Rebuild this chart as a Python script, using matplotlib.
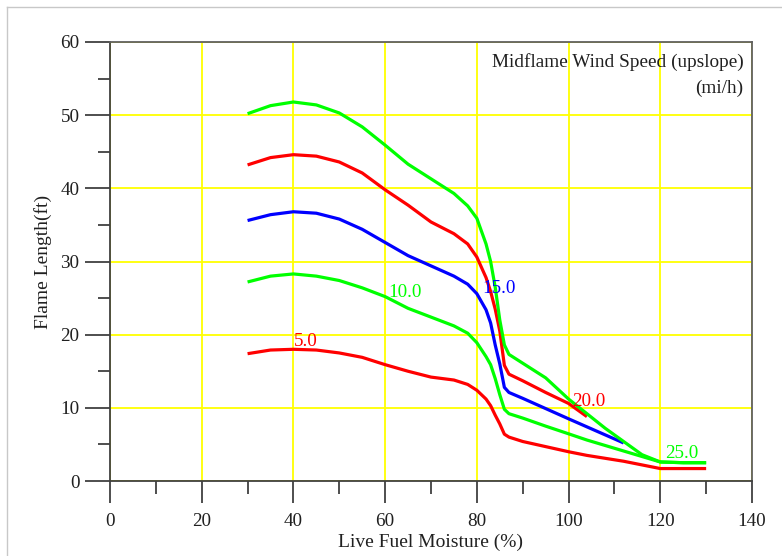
import numpy as np
import matplotlib
matplotlib.use("Agg")
import matplotlib.pyplot as plt
from matplotlib.ticker import MultipleLocator
from matplotlib.lines import Line2D

moisture = [30, 35, 40, 45, 50, 55, 60, 65, 70, 75, 78, 80, 82, 83, 84, 85, 86, 87,
            90, 95, 100, 104, 108, 112, 116, 120, 125, 130]
nan = np.nan
wind_5 = [17.4, 17.9, 18.0, 17.9, 17.5, 16.9, 15.9, 15.0, 14.2, 13.8, 13.2, 12.4, 11.2, 10.3,
          9.0, 7.8, 6.4, 6.0, 5.4, 4.7, 4.0, 3.5, 3.1, 2.7, 2.2, 1.7, 1.7, 1.7]
wind_10 = [27.2, 28.0, 28.3, 28.0, 27.4, 26.4, 25.2, 23.6, 22.4, 21.2, 20.2, 18.9, 17.0, 15.9,
           14.0, 11.8, 9.8, 9.2, 8.6, 7.5, 6.45, 5.6, 4.85, 4.1, 3.35, 2.6, 2.5, 2.5]
wind_15 = [35.6, 36.4, 36.8, 36.6, 35.8, 34.4, 32.6, 30.8, 29.4, 28.0, 26.9, 25.6, 23.4, 21.6,
           18.6, 16.0, 12.8, 12.1, 11.3, 9.9, 8.5, 7.4, 6.3, 5.2, nan, nan, nan, nan]
wind_20 = [43.2, 44.2, 44.6, 44.4, 43.6, 42.1, 39.8, 37.7, 35.4, 33.8, 32.4, 30.6, 27.8, 25.9,
           23.5, 20.5, 15.8, 14.6, 13.7, 12.1, 10.6, 8.8, nan, nan, nan, nan, nan, nan]
wind_25 = [50.2, 51.3, 51.8, 51.4, 50.3, 48.4, 45.9, 43.3, 41.3, 39.3, 37.6, 35.9, 32.4, 30.0,
           26.5, 22.0, 18.6, 17.3, 16.1, 14.1, 11.2, 9.2, 7.2, 5.4, 3.6, 2.6, 2.5, 2.5]

series_labels = ["5.0", "10.0", "15.0", "20.0", "25.0"]
series_colors = ["#FF0000", "#00FF00", "#0000FF", "#FF0000", "#00FF00"]
label_pos = [(40.0, 19.1), (60.6, 25.8), (81.1, 26.3), (100.7, 10.9), (121.0, 3.8)]

serif = ["Liberation Serif", "DejaVu Serif"]
plt.rcParams['font.family'] = serif

fig = plt.figure(figsize=(7.82, 5.56), dpi=100)
ax = fig.add_axes([110/782, 1-481/556, (752-110)/782, (481-42)/556])

# figure border (light gray)
fig.add_artist(Line2D([7/782, 7/782], [0, 1-7/556], transform=fig.transFigure, color="#c8c8c8", lw=1))
fig.add_artist(Line2D([7/782, 1], [1-7/556, 1-7/556], transform=fig.transFigure, color="#c8c8c8", lw=1))

ax.set_xlim(0, 140)
ax.set_ylim(0, 60)
ax.xaxis.set_major_locator(MultipleLocator(20))
ax.xaxis.set_minor_locator(MultipleLocator(10))
ax.yaxis.set_major_locator(MultipleLocator(10))
ax.yaxis.set_minor_locator(MultipleLocator(5))
ax.grid(True, which="major", color="#FFFF00", lw=1.3)
ax.set_axisbelow(True)

for v, c in zip([wind_5, wind_10, wind_15, wind_20, wind_25], series_colors):
    ax.plot(moisture, v, color=c, lw=2.3, solid_capstyle="butt", solid_joinstyle="round")

for (lx, ly), t, c in zip(label_pos, series_labels, series_colors):
    ax.text(lx, ly, t, color=c, fontsize=13.8, ha="left", va="center")

ax.tick_params(which="major", direction="out", length=17, width=1.3, color="#404040",
               labelsize=13.8, labelcolor="#202020")
ax.tick_params(axis="y", which="major", length=18, pad=4)
ax.tick_params(axis="x", which="major", length=16, pad=7)
ax.tick_params(which="minor", direction="out", length=9, width=1.3, color="#404040")

for s in ["left", "bottom"]:
    ax.spines[s].set_color("#404040")
    ax.spines[s].set_linewidth(1.3)
for s in ["top", "right"]:
    ax.spines[s].set_color("#606060")
    ax.spines[s].set_linewidth(1.3)

ax.set_xlabel("Live Fuel Moisture (%)", fontsize=14, color="#202020", labelpad=3)
ax.set_ylabel("Flame Length(ft)", fontsize=14, color="#202020", labelpad=6)

ax.text(0.987, 0.955, "Midflame Wind Speed (upslope)", transform=ax.transAxes,
        ha="right", va="center", fontsize=13.9, color="#202020")
ax.text(0.987, 0.895, "(mi/h)", transform=ax.transAxes,
        ha="right", va="center", fontsize=13.9, color="#202020")

fig.savefig("out.png", dpi=100)
